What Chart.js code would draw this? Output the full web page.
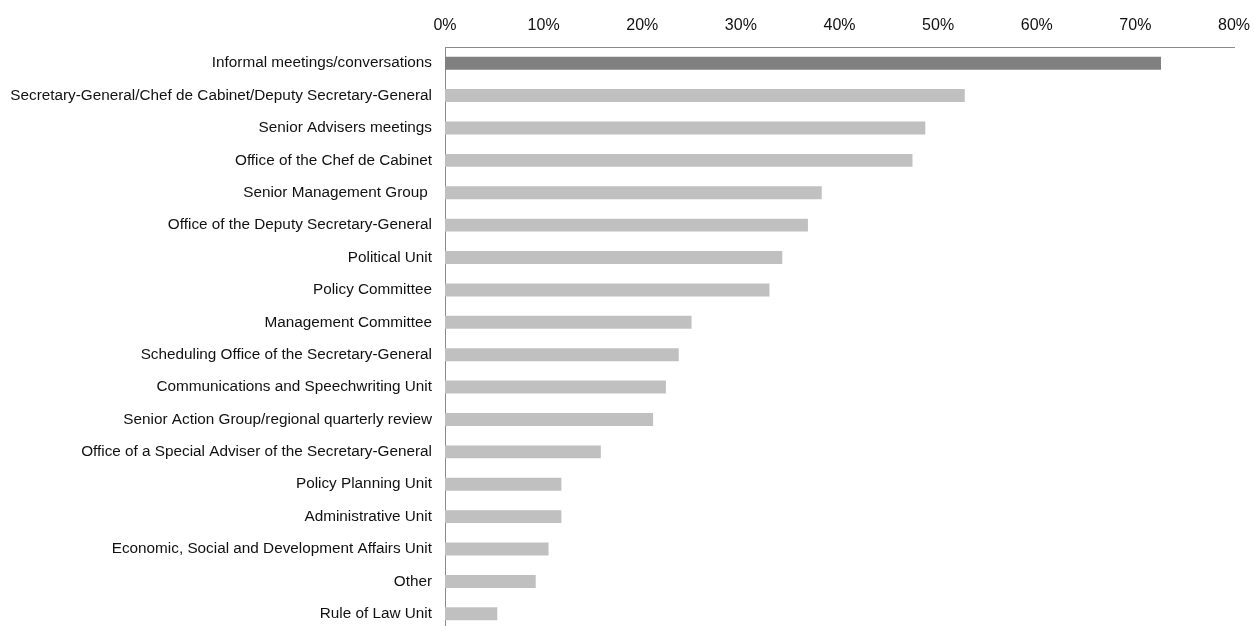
<!DOCTYPE html>
<html><head><meta charset="utf-8">
<script src="https://cdn.jsdelivr.net/npm/chart.js@4"></script>
<style>html,body{margin:0;padding:0;background:#fff;overflow:hidden;}canvas{display:block;}</style>
</head><body><canvas id="c" width="1254" height="632"></canvas>
<script>
const categories = [
  "Informal meetings/conversations",
  "Secretary-General/Chef de Cabinet/Deputy Secretary-General",
  "Senior Advisers meetings",
  "Office of the Chef de Cabinet",
  "Senior Management Group ",
  "Office of the Deputy Secretary-General",
  "Political Unit",
  "Policy Committee",
  "Management Committee",
  "Scheduling Office of the Secretary-General",
  "Communications and Speechwriting Unit",
  "Senior Action Group/regional quarterly review",
  "Office of a Special Adviser of the Secretary-General",
  "Policy Planning Unit",
  "Administrative Unit",
  "Economic, Social and Development Affairs Unit",
  "Other",
  "Rule of Law Unit"
];
const values = [72.6, 52.7, 48.7, 47.4, 38.2, 36.8, 34.2, 32.9, 25.0, 23.7, 22.4, 21.1, 15.8, 11.8, 11.8, 10.5, 9.2, 5.3];
const tickValues = [0, 10, 20, 30, 40, 50, 60, 70, 80];
const barColors = values.map((v, i) => i === 0 ? '#808080' : '#c0c0c0');

new Chart(document.getElementById('c'), {
  type: 'bar',
  data: { labels: categories, datasets: [{ data: values, backgroundColor: barColors, categoryPercentage: 1, barPercentage: 0.4 }] },
  options: {
    indexAxis: 'y', responsive: false, animation: false, devicePixelRatio: 1,
    layout: { padding: { left: 0, right: 20, top: 0, bottom: 2 } },
    plugins: { legend: { display: false }, tooltip: { enabled: false } },
    scales: {
      x: {
        position: 'top', min: 0, max: 80,
        afterBuildTicks: s => { s.ticks = tickValues.map(v => ({ value: v })); },
        afterFit: s => { s.height = 47; s.paddingLeft = 0; s.paddingRight = 0; s.paddingTop = 0; s.paddingBottom = 0; },
        grid: { display: false, drawTicks: false },
        border: { display: true, color: '#8a8a8a', width: 1 },
        ticks: { padding: 12, color: '#111', font: { family: 'Liberation Sans, Arial', size: 16 }, callback: v => v + '%', maxRotation: 0 }
      },
      y: {
        afterFit: s => { s.width = 445; s.paddingLeft = 0; s.paddingRight = 0; s.paddingTop = 0; s.paddingBottom = 0; },
        grid: { display: false, drawTicks: false },
        border: { display: true, color: '#8a8a8a', width: 1 },
        ticks: { padding: 13, color: '#111', font: { family: 'Liberation Sans, Arial', size: 15.3 }, autoSkip: false }
      }
    }
  }
});
</script></body></html>
